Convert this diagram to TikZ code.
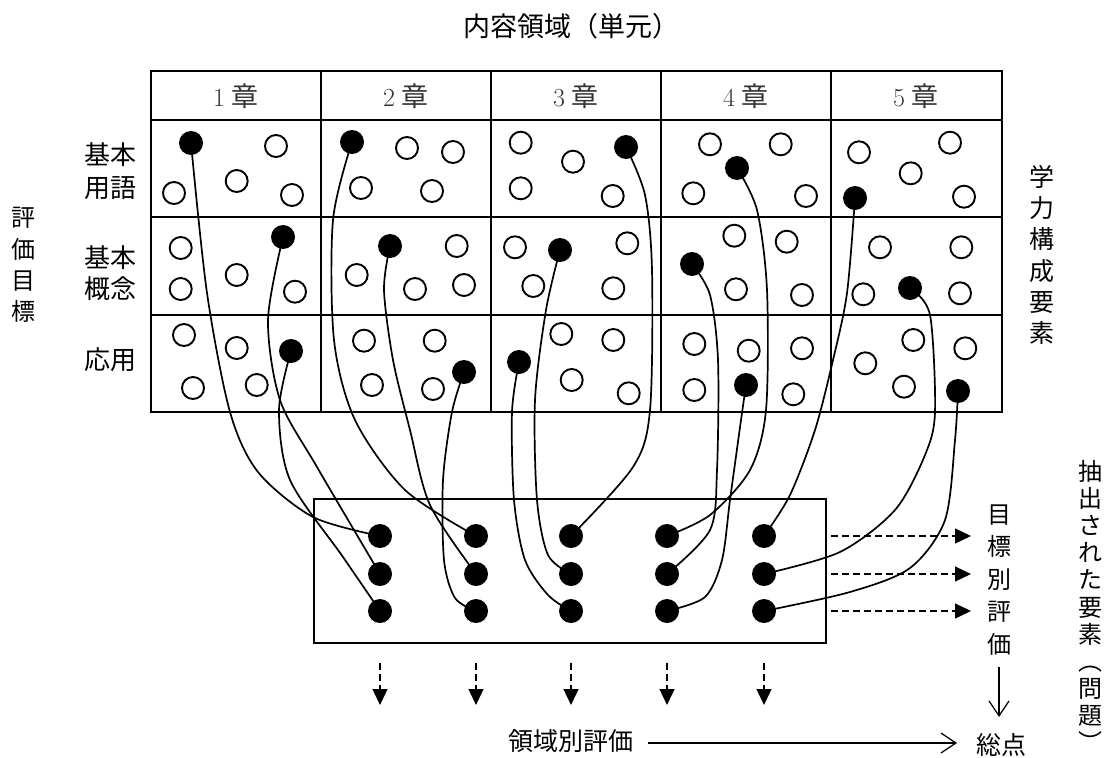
\documentclass[tikz,border=0pt]{standalone}
\usepackage{fontspec}
\newfontfamily\jp{Noto Sans CJK JP}
\usetikzlibrary{arrows.meta}
\pgfdeclarelayer{bg}
\pgfsetlayers{bg,main}
\begin{document}
\begin{tikzpicture}[x=1pt,y=-1pt,
  odot/.style={circle,draw,line width=1.9pt,minimum size=22pt,inner sep=0pt},
  fdot/.style={circle,fill=black,minimum size=24pt,inner sep=0pt},
  conn/.style={line width=1.7pt},
  gridline/.style={line width=2pt},
  darr/.style={line width=1.2pt,dash pattern=on 7pt off 4pt,-{Triangle[length=16pt,width=15pt]}},
  oarr/.style={line width=1.2pt,-{Straight Barb[length=15pt,width=20pt,line width=1.2pt]}},
  lbl/.style={font=\jp\fontsize{24}{31.3}\selectfont,align=center,inner sep=0pt},
  hdr/.style={font=\fontsize{26}{30}\selectfont,text=black!80,inner sep=0pt},
]
\useasboundingbox (0,0) rectangle (1107,757);

% grid
\draw[gridline] (151,71) rectangle (1002,412);
\foreach \y in {120,217,315} \draw[gridline] (151,\y) -- (1002,\y);
\foreach \x in {321,491,661,831} \draw[gridline] (\x,71) -- (\x,412);

% header
\foreach \i in {1,...,5}
  \node[hdr] (h\i) at (66+170*\i,96) {\i\hspace{7pt}{\jp\fontsize{27}{30}\selectfont 章}};

% open circles
\foreach \p [count=\k] in {
  {276,146},{236.7,181},{174,193},{292,195},
  {180.7,248},{180.7,289},{236.7,275},{295,291.7},
  {184,335},{236.7,348},{193,388},{256.7,385},
  {407,148},{453,152},{361,188},{432,191},
  {456.7,246},{356.7,275},{415,289},{464,285},
  {364,340.7},{434.7,340.7},{372,385},{433,389},
  {520.7,142.7},{573,161.7},{520.7,188.3},{612.7,196},
  {515,247.3},{627.3,243.3},{533.3,286},{613.3,288.3},
  {561.3,334},{613.3,340},{571.7,380},{628.7,393.3},
  {710,144.3},{780.7,144.3},{693.3,193.3},{806,196},
  {734.3,235.7},{786.7,241.7},{736,289.3},{802,295},
  {694.3,344},{748.7,350.7},{802,348.3},{694.3,390},{793.3,394.3},
  {859,152.3},{950,142.7},{910.7,173.3},{964,196.7},
  {880,247.3},{961.3,247.3},{863.3,294.3},{960,293.3},
  {913.3,340},{965.3,348.3},{865.3,363.3},{904,386.7}}
  \node[odot] (o\k) at (\p) {};

% filled circles in grid
\node[fdot] (g11) at (191,143) {};
\node[fdot] (g12) at (283,237) {};
\node[fdot] (g13) at (291,351) {};
\node[fdot] (g21) at (352,142) {};
\node[fdot] (g22) at (390,246) {};
\node[fdot] (g23) at (464,372) {};
\node[fdot] (g31) at (626,147) {};
\node[fdot] (g32) at (560,250) {};
\node[fdot] (g33) at (519,362) {};
\node[fdot] (g41) at (737,168) {};
\node[fdot] (g42) at (692,264) {};
\node[fdot] (g43) at (746,385) {};
\node[fdot] (g51) at (855,198) {};
\node[fdot] (g52) at (910,288) {};
\node[fdot] (g53) at (958,391) {};

% box
\node[draw,line width=1.7pt,minimum width=512pt,minimum height=144pt,inner sep=0pt] (box) at (570,571) {};
\foreach \x [count=\c] in {380,476,571,667,764}
  \foreach \y [count=\r] in {536,574,611}
    \node[fdot] (b\c\r) at (\x,\y) {};

% connectors
\begin{pgfonlayer}{bg}
\draw[conn] plot[smooth] coordinates {(g11) (207,293) (230,412) (258,472) (313,517) (b11)};
\draw[conn] plot[smooth] coordinates {(g12) (268,320) (280,400) (317,467) (b12)};
\draw[conn] plot[smooth] coordinates {(g13) (279,410) (290,480) (343,557) (b13)};
\draw[conn] plot[smooth] coordinates {(g21) (333,220) (334,340) (355,420) (405,490) (b21)};
\draw[conn] plot[smooth] coordinates {(g22) (384,290) (393,360) (410,430) (430,505) (b22)};
\draw[conn] plot[smooth] coordinates {(g23) (452,412) (443,480) (444,560) (455,598) (b23)};
\draw[conn] plot[smooth] coordinates {(g31) (645,195) (652,270) (650,410) (633,467) (b31)};
\draw[conn] plot[smooth] coordinates {(g32) (546,310) (535,400) (537,500) (548,555) (b32)};
\draw[conn] plot[smooth] coordinates {(g33) (512,412) (514,500) (525,560) (548,595) (b33)};
\draw[conn] plot[smooth] coordinates {(g41) (757,210) (767,290) (766,410) (750,470) (710,515) (b41)};
\draw[conn] plot[smooth] coordinates {(g42) (710,295) (718,360) (717,470) (710,530) (b42)};
\draw[conn] plot[smooth] coordinates {(g43) (741,420) (730,500) (722,560) (705,597) (b43)};
\draw[conn] plot[smooth] coordinates {(g51) (847,293) (833,360) (815,430) (790,495) (b51)};
\draw[conn] plot[smooth] coordinates {(g52) (930,315) (935,412) (925,455) (895,510) (840,552) (b52)};
\draw[conn] plot[smooth] coordinates {(g53) (955,440) (945,520) (910,568) (850,592) (b53)};
\end{pgfonlayer}

% dashed arrows to the right
\foreach \y [count=\r] in {536,574,611} {
  \coordinate (s\r) at (831,\y);
  \coordinate (t\r) at (971,\y);
  \draw[darr] (s\r) -- (t\r);
}
% dashed arrows downward
\foreach \x [count=\c] in {380,476,571,667,764} {
  \coordinate (u\c) at (\x,663);
  \coordinate (v\c) at (\x,705);
  \draw[darr] (u\c) -- (v\c);
}

% texts
\node[lbl,font=\jp\fontsize{27}{31}\selectfont] (title) at (571,26) {内容領域（単元）};
\node[lbl] (hyoka) at (23,265) {評\\価\\目\\標};
\node[lbl,font=\jp\fontsize{26}{33}\selectfont] (r1) at (110,171.5) {基本\\用語};
\node[lbl,font=\jp\fontsize{26}{31}\selectfont] (r2) at (110,273) {基本\\概念};
\node[lbl,font=\jp\fontsize{26}{31}\selectfont] (r3) at (110,360) {応用};
\node[lbl,font=\jp\fontsize{25}{31.2}\selectfont] (gaku) at (1042,255) {学\\力\\構\\成\\要\\素};
\node[lbl,font=\jp\fontsize{24}{32.5}\selectfont] (mokuhyo) at (999,580) {目\\標\\別\\評\\価};
\node[lbl,font=\jp\fontsize{24}{27.1}\selectfont] (chushutsu) at (1090,606) {抽\\出\\さ\\れ\\た\\要\\素\\︵\\問\\題\\︶};
\node[lbl,font=\jp\fontsize{25}{30}\selectfont] (total) at (1001,745) {総点};
\node[lbl,font=\jp\fontsize{25}{30}\selectfont] (ryoiki) at (571,741) {領域別評価};

\coordinate (p1) at (999,667);
\coordinate (p2) at (999,717);
\draw[oarr] (p1) -- (p2);
\coordinate (q1) at (648,743);
\coordinate (q2) at (957,743);
\draw[oarr] (q1) -- (q2);
\end{tikzpicture}
\end{document}
